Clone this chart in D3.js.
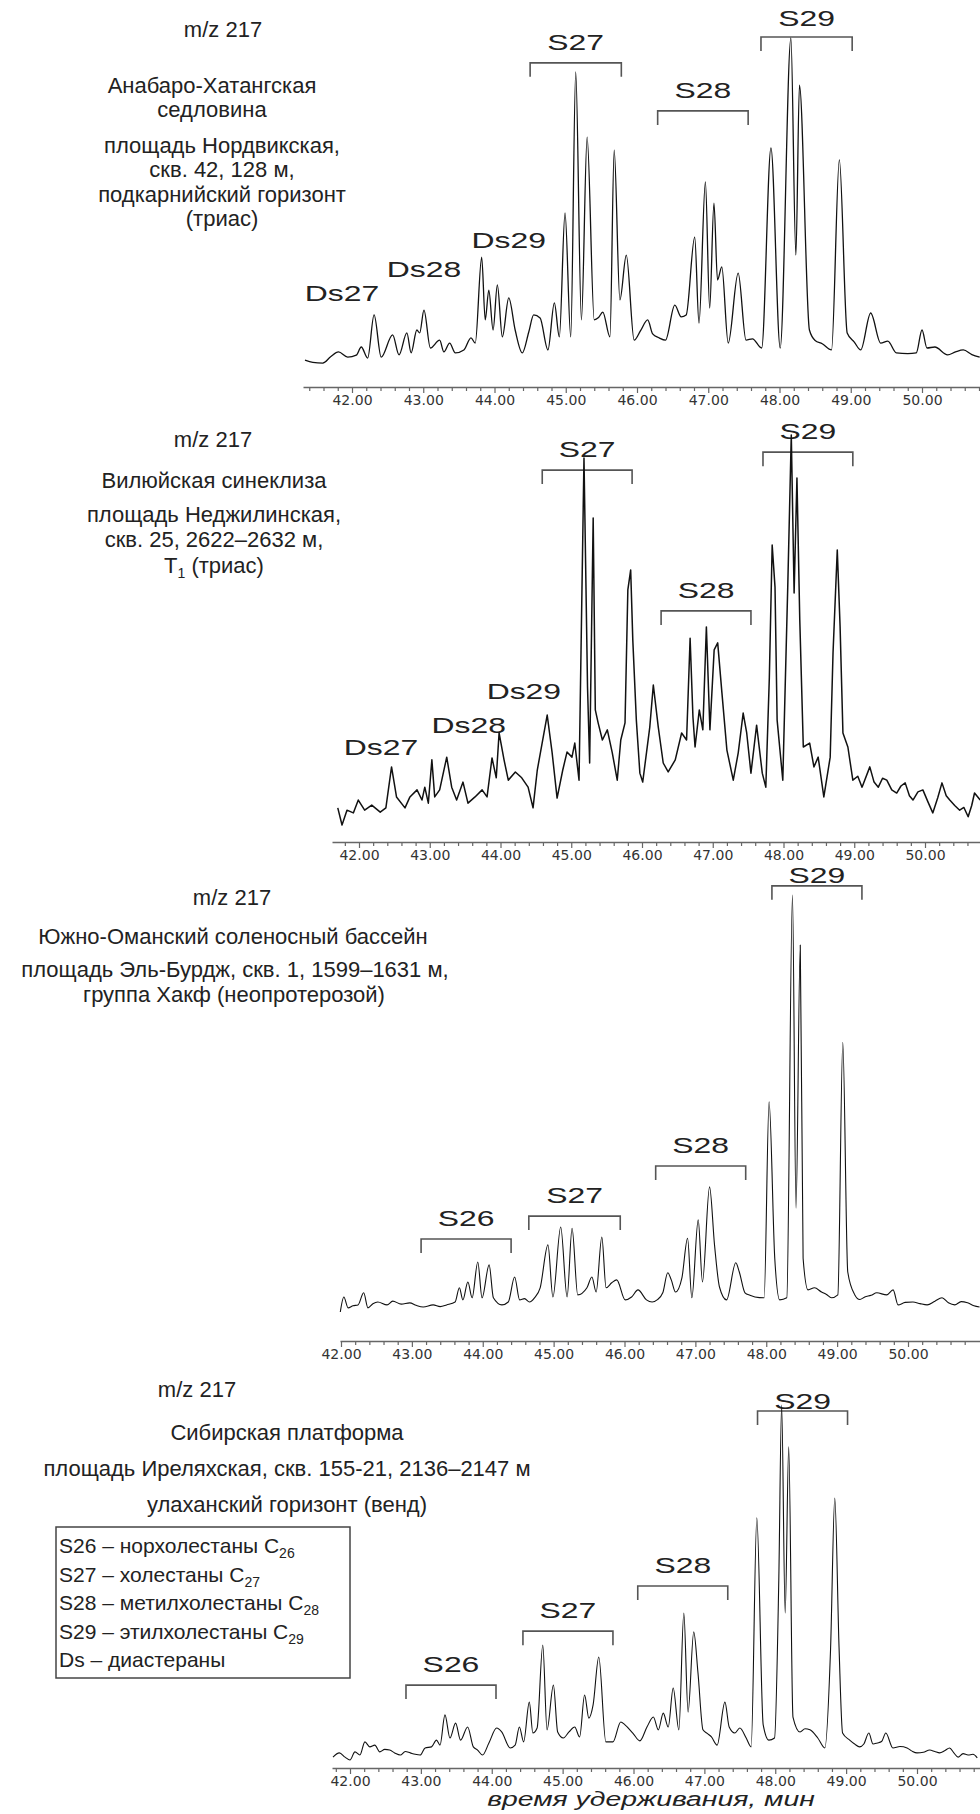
<!DOCTYPE html>
<html>
<head>
<meta charset="utf-8">
<script src="https://d3js.org/d3.v7.min.js"></script>
<style>
  body { margin: 0; background: #fff; }
  svg text { font-family: "Liberation Sans", Arial, sans-serif; fill: #222; }
  .tick text { font-family: "DejaVu Sans", sans-serif; font-size: 14px; fill: #333; }
</style>
</head>
<body>
<div id="chart"></div>
<script>
// --- данные: время удерживания (мин) и относительная интенсивность (%) ---
const trace1 = [[41.34,1.5],[41.45,0.8],[41.59,0.6],[41.70,2.5],[41.81,4.0],[41.94,2.4],[42.06,3.0],[42.13,5.5],
  [42.22,2.1],[42.31,15.3],[42.41,2.4],[42.57,9.2],[42.66,3.1],[42.77,9.8],[42.83,3.7],[42.91,10.7],[42.95,9.8],
  [43.01,16.8],[43.10,5.2],[43.23,7.6],[43.29,4.0],[43.37,6.7],[43.45,3.7],[43.57,4.6],[43.67,8.3],[43.73,6.7],
  [43.82,33.0],[43.87,13.8],[43.92,22.9],[43.98,10.7],[44.04,24.5],[44.11,8.6],[44.20,20.5],[44.29,10.7],[44.39,3.7],
  [44.48,10.0],[44.55,15.3],[44.64,14.4],[44.75,4.6],[44.84,19.0],[44.91,8.6],[44.99,46.5],[45.07,8.6],[45.14,89.6],
  [45.22,13.8],[45.30,69.7],[45.40,13.8],[45.46,14.5],[45.52,16.2],[45.62,8.6],[45.68,65.7],[45.76,19.9],[45.85,33.6],
  [45.96,7.6],[46.05,10.5],[46.15,13.8],[46.22,9.5],[46.31,8.3],[46.40,7.6],[46.53,18.3],[46.62,14.7],[46.69,15.3],
  [46.81,39.1],[46.87,12.8],[46.96,56.0],[47.02,17.4],[47.08,49.5],[47.13,26.0],[47.19,30.0],[47.28,6.7],[47.42,28.1],
  [47.53,7.6],[47.62,8.0],[47.75,5.2],[47.88,66.4],[48.01,5.2],[48.16,100],[48.23,33.6],[48.28,85.6],[48.42,10.7],
  [48.50,7.5],[48.60,6.5],[48.73,4.6],[48.84,62.7],[48.95,9.8],[49.05,7.0],[49.14,4.6],[49.28,15.9],[49.42,6.7],
  [49.52,7.3],[49.64,3.7],[49.80,3.5],[49.92,3.7],[50.00,10.7],[50.07,5.2],[50.18,5.5],[50.36,3.1],[50.47,4.0],
  [50.58,4.6],[50.70,3.2],[50.81,2.4]];

const trace2 = [[41.70,4.4],[41.76,0],[41.83,3.8],[41.92,3.1],[41.99,6.4],[42.08,3.8],[42.18,5.1],[42.30,3.3],
  [42.38,4.4],[42.46,14.9],[42.53,7.2],[42.65,4.4],[42.72,7.2],[42.82,9.0],[42.89,6.4],[42.93,9.7],[42.98,5.6],
  [43.03,16.7],[43.07,7.2],[43.14,9.0],[43.24,17.4],[43.31,9.7],[43.38,6.4],[43.47,11.0],[43.54,5.6],[43.64,7.2],
  [43.74,9.0],[43.81,7.2],[43.88,17.2],[43.94,12.1],[43.98,23.6],[44.05,16.7],[44.11,11.5],[44.21,13.6],[44.30,12.1],
  [44.39,9.7],[44.46,4.4],[44.52,14.1],[44.66,28.2],[44.73,18.5],[44.80,6.9],[44.88,14.1],[44.94,18.7],[45.01,17.4],
  [45.05,21.0],[45.11,11.5],[45.18,94.1],[45.23,35.4],[45.26,15.9],[45.31,78.7],[45.34,29.5],[45.38,26.2],[45.44,21.8],
  [45.51,24.4],[45.58,18.5],[45.65,11.5],[45.70,21.8],[45.76,26.2],[45.80,60.3],[45.84,65.4],[45.87,47.4],[45.92,26.9],
  [45.97,13.3],[46.01,11.0],[46.11,25.1],[46.16,35.9],[46.23,25.1],[46.30,15.9],[46.37,13.6],[46.47,16.7],[46.56,23.6],
  [46.63,21.8],[46.68,47.9],[46.72,27.7],[46.75,20.0],[46.81,29.5],[46.86,24.4],[46.91,50.8],[46.96,24.4],[47.02,44.9],
  [47.07,46.7],[47.13,33.8],[47.20,19.2],[47.29,11.5],[47.36,18.5],[47.43,28.7],[47.48,23.6],[47.54,13.3],[47.62,25.6],
  [47.70,13.3],[47.75,9.7],[47.80,37.9],[47.84,71.8],[47.88,61.0],[47.91,26.9],[47.99,11.5],[48.06,61.0],[48.11,100],
  [48.15,59.5],[48.19,89.0],[48.23,52.6],[48.28,20.0],[48.37,21.0],[48.43,14.9],[48.49,17.4],[48.57,7.2],[48.66,17.4],
  [48.70,44.1],[48.76,70.5],[48.80,50.8],[48.84,23.6],[48.91,20.0],[48.98,11.5],[49.05,12.5],[49.11,9.7],[49.22,14.9],
  [49.28,11.0],[49.34,9.7],[49.40,12.0],[49.46,11.5],[49.53,9.0],[49.60,8.2],[49.66,10.0],[49.72,10.8],[49.78,7.5],
  [49.83,6.4],[49.90,8.5],[49.97,9.0],[50.04,6.0],[50.11,3.1],[50.18,7.0],[50.24,10.8],[50.30,7.5],[50.35,6.4],
  [50.42,5.0],[50.49,3.8],[50.55,4.5],[50.61,2.1],[50.66,5.0],[50.70,8.2],[50.78,6.4]];

const trace3 = [[41.99,0],[42.04,3.6],[42.10,1.0],[42.17,1.5],[42.24,1.7],[42.32,4.6],[42.38,1.0],[42.45,2.0],
  [42.52,2.4],[42.65,1.7],[42.73,2.6],[42.85,1.9],[42.97,2.2],[43.06,1.6],[43.16,1.2],[43.30,1.7],[43.40,1.3],
  [43.49,1.7],[43.61,2.4],[43.67,5.8],[43.72,2.9],[43.79,7.2],[43.85,3.4],[43.93,12.0],[43.99,3.4],[44.09,11.3],
  [44.15,3.4],[44.27,1.7],[44.36,2.4],[44.45,8.4],[44.52,2.9],[44.59,3.2],[44.66,2.4],[44.73,3.4],[44.81,5.8],
  [44.92,16.1],[44.99,3.6],[45.10,20.4],[45.19,3.6],[45.26,20.1],[45.34,4.1],[45.47,5.8],[45.54,8.4],[45.60,4.8],
  [45.68,18.0],[45.74,5.8],[45.82,7.0],[45.89,7.7],[46.01,2.9],[46.10,3.6],[46.19,5.3],[46.31,2.9],[46.39,2.4],
  [46.46,2.9],[46.54,4.6],[46.61,9.4],[46.66,7.7],[46.72,4.8],[46.81,8.2],[46.89,17.7],[46.95,3.4],[47.04,22.1],
  [47.10,7.2],[47.20,30.0],[47.27,16.1],[47.34,6.0],[47.44,2.9],[47.57,11.8],[47.62,9.6],[47.70,4.6],[47.77,4.0],
  [47.84,3.6],[47.97,3.4],[48.04,50.4],[48.12,12.9],[48.19,2.9],[48.29,3.4],[48.37,100],[48.42,24.9],[48.48,88.0],
  [48.52,12.9],[48.59,5.3],[48.68,5.8],[48.78,4.8],[48.85,4.2],[48.92,3.4],[49.01,4.1],[49.08,64.7],[49.15,9.6],
  [49.25,4.1],[49.32,3.0],[49.39,3.6],[49.48,4.0],[49.56,4.6],[49.70,4.1],[49.79,5.3],[49.86,1.7],[49.96,2.3],
  [50.07,2.4],[50.17,2.0],[50.27,1.7],[50.38,2.6],[50.48,3.4],[50.57,2.2],[50.66,1.7],[50.75,2.5],[50.84,2.2],
  [50.93,1.5],[51.01,1.2]];

const trace4 = [[41.76,0.8],[41.85,2.0],[41.93,0.8],[42.00,0],[42.07,2.3],[42.14,1.4],[42.21,5.1],[42.28,3.7],
  [42.35,4.2],[42.42,2.3],[42.49,3.0],[42.56,2.8],[42.63,2.0],[42.71,1.4],[42.78,2.4],[42.85,2.0],[42.92,1.6],
  [42.99,1.4],[43.06,3.4],[43.15,3.7],[43.22,5.6],[43.27,4.2],[43.34,12.7],[43.41,6.2],[43.49,10.4],[43.56,5.6],
  [43.66,9.3],[43.74,3.7],[43.80,2.8],[43.87,1.4],[43.96,4.8],[44.07,9.0],[44.14,7.9],[44.26,3.4],[44.33,4.2],
  [44.39,9.3],[44.45,5.1],[44.53,16.3],[44.58,7.6],[44.64,9.0],[44.72,32.4],[44.78,8.5],[44.87,21.1],[44.93,7.9],
  [45.01,6.2],[45.09,7.9],[45.17,9.3],[45.24,6.5],[45.31,18.3],[45.37,11.8],[45.43,15.5],[45.51,29.0],[45.61,5.1],
  [45.71,5.1],[45.82,10.7],[45.88,9.9],[45.99,7.6],[46.09,5.4],[46.19,9.3],[46.28,12.1],[46.35,8.5],[46.42,13.2],
  [46.49,9.3],[46.56,20.3],[46.64,8.5],[46.71,41.4],[46.77,13.5],[46.85,36.1],[46.91,24.5],[46.98,8.5],[47.04,7.5],
  [47.10,6.5],[47.18,4.2],[47.29,16.3],[47.35,9.3],[47.43,7.6],[47.50,9.0],[47.59,6.2],[47.66,3.7],[47.74,68.2],
  [47.83,9.9],[47.91,5.6],[47.99,6.2],[48.05,50.7],[48.09,100],[48.14,41.4],[48.19,88.2],[48.25,12.1],[48.35,7.9],
  [48.42,8.8],[48.49,8.5],[48.60,6.2],[48.70,3.4],[48.78,31.0],[48.84,73.8],[48.90,31.8],[48.95,7.6],[49.05,5.6],
  [49.12,4.5],[49.19,3.7],[49.25,4.5],[49.32,7.6],[49.38,4.5],[49.44,4.8],[49.50,5.2],[49.56,7.6],[49.66,3.4],
  [49.76,3.8],[49.86,3.4],[49.93,2.5],[50.00,2.0],[50.09,2.2],[50.18,2.8],[50.25,2.4],[50.32,2.0],[50.39,2.6],
  [50.46,3.4],[50.52,2.0],[50.58,0.8],[50.65,1.8],[50.72,1.4],[50.79,1.6],[50.85,0.6]];

// группы стеранов: диапазон времени и уровень скобки (в % интенсивности)
const groups1 = [{name:"S27",from:44.50,to:45.78,level:92.4},{name:"S28",from:46.29,to:47.56,level:77.7},
  {name:"S29",from:47.74,to:49.02,level:100.3}];
const groups2 = [{name:"S27",from:44.59,to:45.86,level:91.0},{name:"S28",from:46.27,to:47.54,level:54.9},
  {name:"S29",from:47.71,to:48.98,level:95.6}];
const groups3 = [{name:"S26",from:43.13,to:44.40,level:17.5},{name:"S27",from:44.65,to:45.94,level:23.0},
  {name:"S28",from:46.44,to:47.71,level:35.0},{name:"S29",from:48.08,to:49.35,level:102.2}];
const groups4 = [{name:"S26",from:42.79,to:44.06,level:21.1},{name:"S27",from:44.44,to:45.71,level:36.3},
  {name:"S28",from:46.06,to:47.33,level:49.0},{name:"S29",from:47.75,to:49.02,level:98.3}];

// диастераны
const ds1 = [{name:"Ds27",t:41.86,level:19.6},{name:"Ds28",t:43.01,level:26.9},{name:"Ds29",t:44.20,level:35.8}];
const ds2 = [{name:"Ds27",t:42.31,level:17.9},{name:"Ds28",t:43.55,level:23.6},{name:"Ds29",t:44.33,level:32.3}];

// подписи образцов
const desc1 = ["m/z 217","Анабаро-Хатангская","седловина","площадь Нордвикская,","скв. 42, 128 м,",
  "подкарнийский горизонт","(триас)"];
const desc2 = ["m/z 217","Вилюйская синеклиза","площадь Неджилинская,","скв. 25, 2622–2632 м,","T|1| (триас)"];
const desc3 = ["m/z 217","Южно-Оманский соленосный бассейн","площадь Эль-Бурдж, скв. 1, 1599–1631 м,",
  "группа Хакф (неопротерозой)"];
const desc4 = ["m/z 217","Сибирская платформа","площадь Иреляхская, скв. 155-21, 2136–2147 м",
  "улаханский горизонт (венд)"];

const legendItems = [["S26 – норхолестаны C","26"],["S27 – холестаны C","27"],["S28 – метилхолестаны C","28"],
  ["S29 – этилхолестаны C","29"],["Ds – диастераны",""]];

const majorTicks = d3.range(42, 51);
const axisTitle = "время удерживания, мин";

// --- компоновка ---
const W = 980, H = 1814;
const panels = [
  {trace:trace1, groups:groups1, ds:ds1, desc:desc1, x42:352, x50:922, axisStart:303, axisY:387, y0:365, yTop:38,
   descPos:[[223,37],[212,93],[212,117],[222,153],[222,177],[222,202],[222,226]], sw:1.3, s29Gap:11,
   curve:d3.curveMonotoneX},
  // второй образец сильно зашумлён — ломаная без сглаживания
  {trace:trace2, groups:groups2, ds:ds2, desc:desc2, x42:359, x50:925, axisStart:332, axisY:842, y0:825, yTop:435,
   descPos:[[213,447],[214,488],[214,522],[214,547],[214,573]], sw:1.5, s29Gap:13,
   curve:d3.curveLinear},
  {trace:trace3, groups:groups3, ds:[], desc:desc3, x42:341, x50:908, axisStart:340, axisY:1341, y0:1312, yTop:895,
   descPos:[[232,905],[233,944],[235,977],[234,1002]], sw:1.1, s29Gap:3,
   curve:d3.curveMonotoneX},
  {trace:trace4, groups:groups4, ds:[], desc:desc4, x42:350, x50:917, axisStart:332, axisY:1768, y0:1760, yTop:1405,
   descPos:[[197,1397],[287,1440],[287,1476],[287,1512]], sw:1.1, s29Gap:2,
   curve:d3.curveMonotoneX}
];

const svg = d3.select("#chart").append("svg")
  .attr("width", W).attr("height", H).attr("viewBox", `0 0 ${W} ${H}`);

const stretch = 1.45;   // подписи пиков в оригинале растянуты по горизонтали

panels.forEach(p => {
  const g = svg.append("g");
  const x = d3.scaleLinear().domain([42, 50]).range([p.x42, p.x50]);
  const y = d3.scaleLinear().domain([0, 100]).range([p.y0, p.yTop]);

  // текст слева
  p.desc.forEach((line, i) => {
    const t = g.append("text").attr("x", p.descPos[i][0]).attr("y", p.descPos[i][1])
      .attr("text-anchor", "middle").style("font-size", "22px");
    line.split("|").forEach((part, j) => {
      const ts = t.append("tspan").text(part);
      if (j === 1) ts.attr("dy", 5).style("font-size", "14px");
      if (j === 2) ts.attr("dy", -5);
    });
  });

  // скобки групп
  g.selectAll(".br").data(p.groups).join("path")
    .attr("d", d => `M${x(d.from)},${y(d.level) + 14}V${y(d.level)}H${x(d.to)}V${y(d.level) + 14}`)
    .attr("fill", "none").attr("stroke", "#555").attr("stroke-width", 1.6);

  g.selectAll(".gl").data(p.groups).join("text")
    .attr("transform", d => {
      const gap = d.name === "S29" ? p.s29Gap : 13;
      return `translate(${(x(d.from) + x(d.to)) / 2},${y(d.level) - gap}) scale(${stretch},1)`;
    })
    .attr("text-anchor", "middle").style("font-size", "22px").text(d => d.name);

  g.selectAll(".dl").data(p.ds).join("text")
    .attr("transform", d => `translate(${x(d.t)},${y(d.level)}) scale(${stretch},1)`)
    .attr("text-anchor", "middle").style("font-size", "22px").text(d => d.name);

  // хроматограмма
  g.append("path").datum(p.trace)
    .attr("d", d3.line().x(d => x(d[0])).y(d => y(d[1])).curve(p.curve))
    .attr("fill", "none").attr("stroke", "#111").attr("stroke-width", p.sw)
    .attr("stroke-linejoin", "round");

  // ось времени
  const xa = x.copy().domain([x.invert(p.axisStart), x.invert(W)]).range([p.axisStart, W]);
  const [d0, d1] = xa.domain();
  const minor = d3.range(Math.ceil(d0 * 5), Math.floor(d1 * 5) + 1).map(k => k / 5)
    .filter(v => Math.abs(v - Math.round(v)) > 1e-6);

  const ax = g.append("g").attr("transform", `translate(0,${p.axisY})`);
  ax.append("g")
    .call(d3.axisBottom(xa).tickValues(minor).tickFormat("").tickSizeInner(4).tickSizeOuter(0))
    .call(s => s.select(".domain").remove());
  ax.append("g")
    .call(d3.axisBottom(xa).tickValues(majorTicks.filter(v => v >= d0 && v <= d1))
      .tickFormat(d3.format(".2f")).tickSizeInner(6).tickSizeOuter(0).tickPadding(2));
  ax.selectAll("line").attr("stroke", "#666").attr("stroke-width", 1.2);
  ax.selectAll(".domain").attr("stroke", "#666").attr("stroke-width", 1.5);
});

// легенда
const lg = svg.append("g");
lg.append("rect").attr("x", 56).attr("y", 1527).attr("width", 294).attr("height", 151)
  .attr("fill", "none").attr("stroke", "#444").attr("stroke-width", 1.5);
legendItems.forEach((it, i) => {
  const t = lg.append("text").attr("x", 59).attr("y", 1553 + i * 28.6).style("font-size", "21px");
  t.append("tspan").text(it[0]);
  if (it[1]) t.append("tspan").attr("dy", 5).style("font-size", "14px").text(it[1]);
});

// подпись оси
svg.append("text")
  .attr("transform", `translate(651,1806) scale(1.35,1)`)
  .attr("text-anchor", "middle").style("font-size", "21px").style("font-style", "italic")
  .text(axisTitle);
</script>
</body>
</html>
